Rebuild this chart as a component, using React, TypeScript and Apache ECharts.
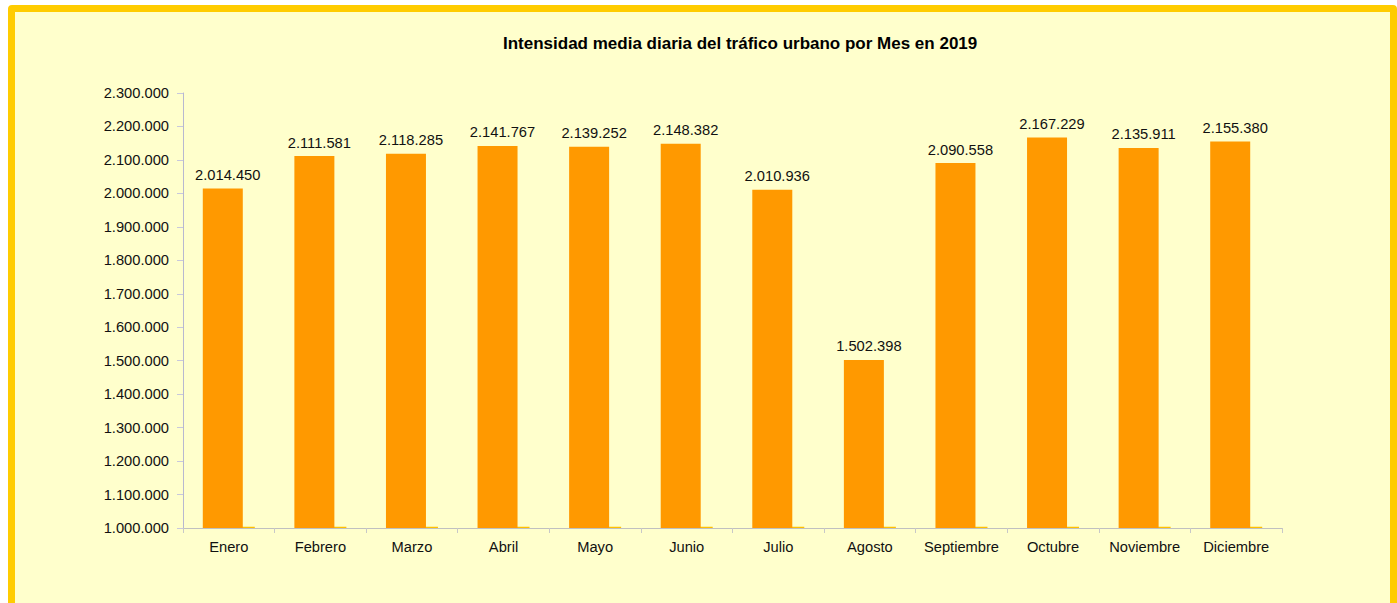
import React, { useEffect, useRef } from "react";
import * as echarts from "echarts";

const months = [
  "Enero", "Febrero", "Marzo", "Abril", "Mayo", "Junio",
  "Julio", "Agosto", "Septiembre", "Octubre", "Noviembre", "Diciembre",
];
const traffic = [
  2014450, 2111581, 2118285, 2141767, 2139252, 2148382,
  2010936, 1502398, 2090558, 2167229, 2135911, 2155380,
];
const baseSeries = [
  1003500, 1003500, 1003500, 1003500, 1003500, 1003500,
  1003500, 1003500, 1003500, 1003500, 1003500, 1003500,
];
const yMin = 1000000;
const yMax = 2300000;
const yStep = 100000;
const title = "Intensidad media diaria del tráfico urbano por Mes en 2019";

const fmt = (v: number) =>
  String(Math.round(v)).replace(/\B(?=(\d{3})+(?!\d))/g, ".");

const FONT = "Liberation Sans, Arial, sans-serif";

export default function App() {
  const ref = useRef<HTMLDivElement>(null);
  useEffect(() => {
    if (!ref.current) return;
    const chart = echarts.init(ref.current, null, { renderer: "svg" });
    chart.setOption({
      animation: false,
      backgroundColor: "transparent",
      title: {
        text: title,
        left: 503,
        top: 35,
        padding: 0,
        textStyle: { fontFamily: FONT, fontSize: 17, fontWeight: "bold", color: "#000" },
      },
      grid: { left: 183, right: 115, top: 93, bottom: 75, containLabel: false },
      xAxis: {
        type: "category",
        data: months,
        axisLine: { lineStyle: { color: "#C0C0C0", width: 1 } },
        axisTick: { show: true, length: 5, lineStyle: { color: "#C8C8C8" } },
        axisLabel: { interval: 0, fontFamily: FONT, fontSize: 14.7, color: "#111", margin: 11 },
      },
      yAxis: {
        type: "value",
        min: yMin,
        max: yMax,
        interval: yStep,
        splitLine: { show: false },
        axisLine: { show: true, lineStyle: { color: "#B8B8D0", width: 1 } },
        axisTick: { show: true, length: 6, lineStyle: { color: "#C8C8DC" } },
        axisLabel: {
          fontFamily: FONT,
          fontSize: 14.7,
          color: "#111",
          margin: 14,
          formatter: (v: number) => fmt(v),
        },
      },
      series: [
        {
          type: "bar",
          data: traffic,
          barWidth: 40,
          barGap: "-70%",
          itemStyle: { color: "#FF9900" },
          z: 3,
          label: {
            show: true,
            position: "top",
            distance: 6,
            offset: [5, 0],
            fontFamily: FONT,
            fontSize: 14.7,
            color: "#111",
            formatter: (p: any) => fmt(p.value),
          },
        },
        {
          type: "bar",
          data: baseSeries,
          barWidth: 40,
          itemStyle: { color: "#FFC000" },
          z: 2,
          label: { show: false },
        },
      ],
    });
    return () => chart.dispose();
  }, []);

  return (
    <>
      <div
        style={{
          position: "fixed",
          left: 8,
          top: 5,
          width: 1389,
          height: 640,
          boxSizing: "border-box",
          border: "7px solid #FFCC00",
          borderRadius: 4,
          background: "#FFFFCC",
        }}
      />
      <div
        ref={ref}
        style={{ position: "fixed", left: 0, top: 0, width: 1397, height: 603 }}
      />
    </>
  );
}
